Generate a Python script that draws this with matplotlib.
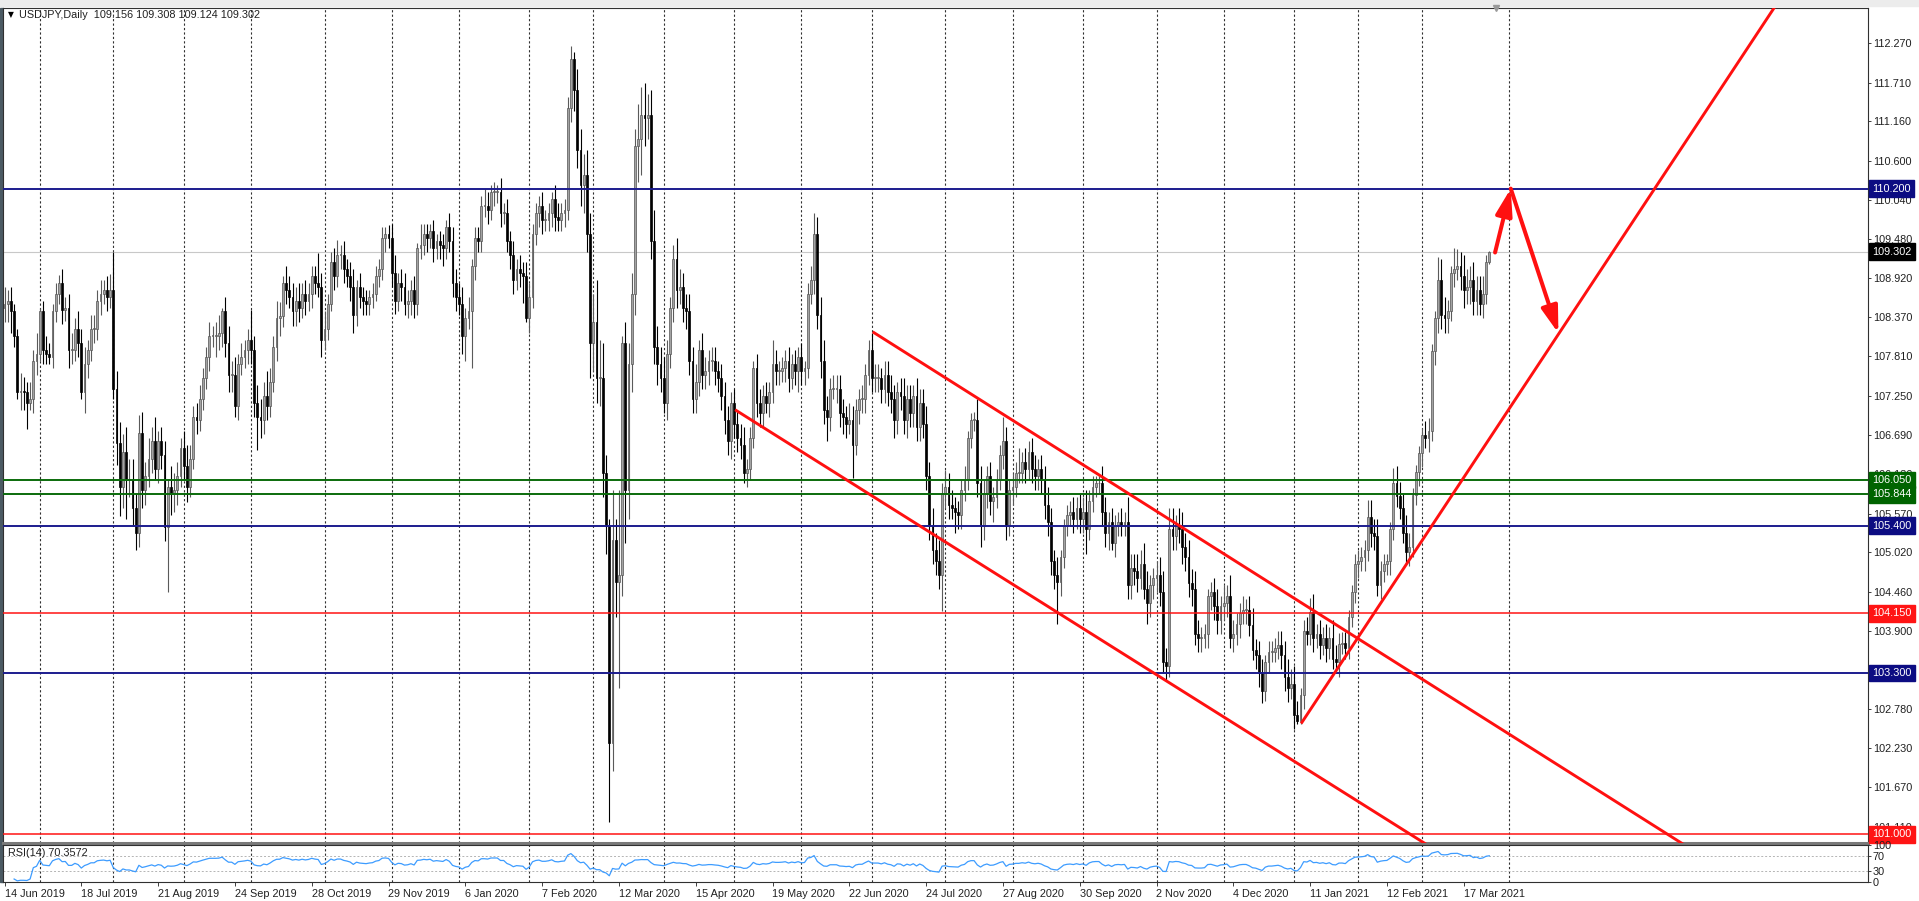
import matplotlib
matplotlib.use("Agg")
import matplotlib.pyplot as plt
import matplotlib.transforms as mtransforms
from matplotlib.patches import Rectangle
import numpy as np
import pandas as pd

plt.rcParams['font.family'] = ['Liberation Sans', 'DejaVu Sans']

# USDJPY daily, bar 0 = 14 Jun 2019 ... bar 464 = last (partial) bar
first_open = 108.50
closes = [
    108.55, 108.60, 108.45, 108.10, 107.30, 107.32, 107.30, 107.15, 107.20, 107.75,
    107.85, 108.45, 107.90, 107.85, 107.80, 108.45, 108.70, 108.85, 108.47, 108.50,
    107.90, 107.90, 108.20, 108.00, 107.30, 107.70, 107.90, 108.20, 108.20, 108.60,
    108.70, 108.75, 108.65, 108.75, 107.35, 106.57, 105.95, 106.45, 106.05, 106.05,
    105.65, 105.30, 106.72, 105.90, 106.10, 106.35, 106.60, 106.20, 106.60, 106.40,
    105.38, 105.95, 105.85, 105.90, 106.10, 106.50, 106.25, 105.95, 106.35, 106.95,
    106.90, 107.20, 107.50, 107.80, 108.10, 108.10, 108.10, 108.15, 108.45, 108.00,
    107.55, 107.55, 107.10, 107.70, 107.80, 107.90, 108.05, 107.90, 107.15, 106.95,
    106.90, 107.25, 107.10, 107.45, 107.95, 108.35, 108.38, 108.85, 108.75, 108.65,
    108.45, 108.60, 108.50, 108.70, 108.60, 108.70, 108.95, 108.85, 108.80, 108.05,
    108.20, 108.55, 109.15, 108.95, 109.25, 109.25, 109.05, 108.95, 108.80, 108.40,
    108.80, 108.65, 108.60, 108.55, 108.65, 108.70, 108.95, 109.05, 109.50, 109.55,
    109.50, 109.00, 108.60, 108.85, 108.80, 108.55, 108.60, 108.75, 108.55, 109.35,
    109.40, 109.55, 109.50, 109.60, 109.35, 109.45, 109.40, 109.35, 109.65, 109.45,
    108.85, 108.65, 108.55, 108.10, 108.35, 108.45, 109.10, 109.50, 109.45, 109.95,
    109.95, 109.90, 110.15, 110.15, 110.15, 109.85, 109.85, 109.45, 109.25, 108.90,
    109.05, 109.00, 108.95, 108.35, 108.65, 109.55, 109.85, 109.95, 109.75, 109.75,
    109.85, 110.05, 109.80, 109.75, 109.85, 109.90, 111.35, 112.05, 111.60, 110.75,
    110.25, 110.40, 109.55, 108.00, 108.30, 107.50, 107.50, 106.15, 105.40, 102.30,
    105.20, 104.60, 104.70, 108.00, 105.90, 107.70, 108.70, 110.80, 110.90, 111.25,
    111.20, 111.25, 109.45, 107.95, 107.70, 107.50, 107.15, 107.85, 108.50, 109.20,
    108.75, 108.80, 108.50, 108.45, 107.75, 107.20, 107.45, 107.90, 107.55, 107.60,
    107.75, 107.75, 107.60, 107.50, 107.25, 106.90, 106.60, 107.15, 106.85, 106.65,
    106.55, 106.15, 106.20, 106.65, 107.65, 107.15, 107.00, 107.25, 107.15, 107.30,
    107.70, 107.60, 107.60, 107.65, 107.75, 107.50, 107.70, 107.60, 107.80, 107.60,
    107.65, 108.70, 108.90, 109.55, 108.40, 107.75, 107.05, 106.95, 107.35, 107.35,
    107.35, 107.00, 106.95, 106.85, 106.90, 106.55, 107.05, 107.20, 107.20, 107.55,
    107.90, 107.50, 107.50, 107.50, 107.35, 107.55, 107.30, 107.20, 106.90, 107.30,
    107.25, 106.90, 107.20, 107.00, 107.25, 106.80, 107.15, 106.85, 106.10, 105.40,
    105.05, 104.90, 104.70, 105.85, 105.95, 105.70, 105.65, 105.60, 105.55, 105.90,
    106.05, 106.65, 106.90, 106.90, 106.00, 105.40, 105.85, 106.10, 105.75, 105.80,
    106.05, 106.40, 106.60, 105.40, 105.90, 105.95, 106.15, 106.15, 106.30, 106.20,
    106.45, 106.20, 106.10, 106.20, 106.05, 105.70, 105.45, 104.90, 104.70, 104.60,
    104.95, 105.40, 105.55, 105.60, 105.50, 105.65, 105.50, 105.60, 105.35, 105.75,
    105.95, 106.00, 106.00, 105.60, 105.30, 105.45, 105.15, 105.40, 105.45, 105.40,
    105.45, 104.55, 104.80, 104.75, 104.65, 104.85, 104.50, 104.30, 104.55, 104.65,
    104.70, 104.45, 103.45, 103.40, 105.35, 105.25, 105.40, 105.35, 105.10, 104.95,
    104.58, 104.50, 103.85, 103.80, 103.80, 103.85, 104.40, 104.45, 104.25, 104.05,
    104.25, 104.30, 104.40, 103.80, 103.85, 104.00, 104.15, 104.20, 104.20, 103.98,
    103.63, 103.55, 103.30, 103.05, 103.45, 103.60, 103.60, 103.65, 103.70, 103.55,
    103.25, 103.08, 103.15, 102.70, 102.62, 102.98, 103.90, 103.85, 104.17, 103.80,
    103.85, 103.70, 103.80, 103.65, 103.80, 103.50, 103.45, 103.72, 103.73, 103.65,
    104.10, 104.45, 104.85, 104.90, 104.95, 105.05, 105.52, 105.30, 105.25, 104.55,
    104.75, 104.85, 104.90, 105.35, 106.00, 105.82, 105.65, 105.30, 105.02, 105.10,
    105.84, 106.17, 106.44, 106.69, 106.65, 106.75, 107.89, 108.35, 108.90, 108.40,
    108.35, 108.46, 109.00, 109.05, 109.10, 108.95, 108.75, 108.80, 108.90, 108.60,
    108.75, 108.55, 108.70, 109.156, 109.302,
]
# distance of high above the body top / low below the body bottom (yen)
wick_up = [
    .25, .15, .20, .10, .10, .25, .20, .15, .25, .15,
    .30, .05, .15, .20, .15, .10, .15, .12, .20, .15,
    .20, .25, .15, .25, .20, .25, .15, .20, .20, .15,
    .20, .15, .20, .24, .55, .25, .30, .25, .35, .30,
    .30, .20, .25, .30, .20, .30, .20, .35, .15, .20,
    .20, .10, .30, .25, .20, .15, .25, .30, .20, .15,
    .20, .20, .15, .15, .20, .15, .20, .25, .05, .20,
    .25, .20, .25, .15, .20, .15, .15, .42, .20, .25,
    .25, .20, .35, .20, .15, .25, .20, .10, .25, .20,
    .20, .20, .25, .15, .20, .15, .15, .15, .43, .20,
    .25, .15, .15, .20, .22, .15, .20, .15, .20, .25,
    .10, .20, .15, .15, .10, .15, .15, .15, .15, .10,
    .13, .20, .25, .15, .20, .20, .15, .15, .20, .07,
    .30, .15, .15, .10, .15, .10, .15, .15, .10, .20,
    .20, .20, .20, .25, .15, .20, .10, .15, .15, .15,
    .25, .20, .10, .14, .10, .20, .15, .20, .15, .20,
    .15, .20, .15, .20, .20, .15, .15, .15, .20, .15,
    .15, .10, .20, .20, .15, .15, .15, .18, .10, .30,
    .30, .30, .35, .30, .40, .60, .55, .50, .25, .10,
    .70, .30, 1.20, .10, .30, .30, .30, .25, .50, .40,
    .46, .30, .35, .45, .30, .25, .30, .20, .15, .20,
    .30, .25, .20, .20, .25, .20, .25, .15, .25, .20,
    .15, .20, .20, .15, .20, .20, .20, .15, .20, .20,
    .20, .25, .15, .15, .10, .20, .20, .15, .20, .15,
    .35, .20, .15, .15, .15, .20, .15, .20, .15, .20,
    .10, .15, .20, .30, .25, .25, .30, .20, .15, .20,
    .20, .20, .20, .15, .25, .20, .15, .15, .20, .15,
    .15, .25, .20, .20, .15, .20, .20, .25, .20, .15,
    .20, .25, .20, .20, .15, .25, .20, .20, .25, .20,
    .25, .25, .30, .15, .24, .20, .20, .15, .15, .15,
    .20, .10, .10, .12, .30, .25, .20, .15, .20, .15,
    .15, .15, .35, .20, .15, .20, .15, .35, .15, .20,
    .15, .20, .20, .15, .20, .20, .25, .20, .15, .25,
    .10, .10, .15, .15, .20, .15, .20, .20, .30, .15,
    .15, .10, .10, .25, .20, .15, .20, .15, .15, .20,
    .15, .35, .20, .20, .25, .20, .30, .25, .15, .15,
    .20, .25, .30, .20, .30, .30, .15, .25, .25, .20,
    .25, .20, .25, .20, .15, .15, .10, .15, .20, .25,
    .15, .25, .15, .30, .20, .15, .15, .20, .15, .20,
    .25, .15, .20, .20, .10, .15, .15, .15, .20, .20,
    .20, .25, .20, .25, .20, .10, .15, .20, .20, .25,
    .15, .20, .15, .20, .15, .25, .20, .15, .15, .15,
    .10, .10, .15, .15, .15, .15, .24, .25, .20, .25,
    .15, .15, .10, .10, .22, .25, .20, .20, .25, .20,
    .10, .10, .10, .10, .20, .18, .10, .10, .33, .30,
    .25, .15, .10, .31, .24, .20, .30, .25, .20, .25,
    .20, .20, .25, .10, .006,
]
wick_dn = [
    .20, .25, .30, .15, .10, .25, .25, .37, .10, .20,
    .20, .10, .20, .15, .10, .15, .15, .15, .20, .15,
    .25, .20, .15, .20, .10, .30, .20, .15, .20, .15,
    .20, .15, .20, .15, .15, .30, .42, .30, .55, .25,
    .25, .25, .20, .25, .20, .15, .20, .15, .20, .20,
    .20, .93, .30, .25, .20, .15, .20, .21, .15, .15,
    .20, .15, .15, .15, .20, .15, .30, .20, .20, .20,
    .25, .25, .15, .20, .15, .15, .20, .20, .20, .47,
    .25, .20, .20, .15, .15, .20, .25, .15, .20, .15,
    .20, .20, .20, .15, .20, .15, .20, .15, .15, .25,
    .15, .15, .10, .20, .15, .20, .20, .15, .20, .25,
    .15, .15, .20, .15, .15, .15, .10, .15, .15, .20,
    .15, .20, .18, .15, .20, .15, .20, .20, .20, .15,
    .15, .15, .20, .15, .20, .15, .20, .25, .15, .15,
    .20, .20, .15, .25, .35, .15, .80, .20, .15, .15,
    .15, .20, .15, .20, .15, .20, .15, .15, .20, .20,
    .15, .20, .38, .05, .20, .15, .15, .20, .20, .15,
    .15, .20, .20, .15, .15, .20, .15, .20, .30, .25,
    .30, .40, .25, .50, .40, .35, .40, .35, .40, 1.12,
    .40, .50, 1.52, .30, .75, .40, .40, .30, .50, .50,
    .40, .30, .25, .25, .30, .20, .15, .25, .20, .20,
    .25, .20, .20, .25, .20, .20, .20, .20, .20, .20,
    .20, .15, .20, .20, .20, .20, .20, .25, .20, .20,
    .20, .15, .20, .15, .15, .20, .20, .20, .15, .20,
    .15, .20, .20, .15, .20, .20, .15, .20, .30, .20,
    .20, .15, .15, .20, .20, .25, .20, .35, .20, .15,
    .20, .20, .25, .20, .15, .47, .15, .20, .20, .20,
    .15, .20, .20, .20, .20, .20, .20, .20, .25, .20,
    .20, .20, .25, .20, .20, .20, .20, .20, .20, .20,
    .20, .20, .20, .51, .20, .20, .15, .30, .20, .20,
    .15, .15, .15, .15, .20, .30, .20, .20, .20, .30,
    .15, .15, .20, .20, .15, .20, .15, .15, .15, .20,
    .15, .20, .20, .20, .20, .20, .20, .20, .20, .60,
    .20, .15, .15, .15, .20, .15, .20, .20, .35, .15,
    .15, .15, .15, .20, .20, .25, .10, .20, .15, .15,
    .15, .20, .20, .20, .20, .15, .15, .30, .20, .20,
    .20, .20, .15, .22, .15, .20, .20, .20, .25, .20,
    .20, .25, .15, .20, .20, .15, .20, .20, .20, .20,
    .20, .20, .20, .15, .20, .15, .20, .15, .20, .15,
    .15, .20, .20, .18, .15, .15, .15, .15, .15, .20,
    .20, .20, .15, .20, .04, .04, .20, .15, .15, .20,
    .15, .20, .15, .20, .15, .15, .11, .20, .15, .15,
    .15, .15, .15, .20, .15, .20, .15, .20, .20, .15,
    .20, .15, .15, .20, .15, .15, .15, .15, .15, .20,
    .15, .15, .20, .20, .15, .20, .15, .20, .20, .20,
    .20, .20, .15, .20, .15, .20, .25, .20, .25, .20,
    .20, .15, .20, .15, .032,
]

price_ticks = [112.270, 111.710, 111.160, 110.600, 110.040, 109.480, 108.920,
               108.370, 107.810, 107.250, 106.690, 106.130, 105.570, 105.020,
               104.460, 103.900, 103.340, 102.780, 102.230, 101.670, 101.110]
levels = [110.200, 106.050, 105.844, 105.400, 104.150, 103.300, 101.000]
level_kind = ['blue', 'green', 'green', 'blue', 'red', 'blue', 'red']
last_price = 109.302

date_labels = ['14 Jun 2019', '18 Jul 2019', '21 Aug 2019', '24 Sep 2019',
               '28 Oct 2019', '29 Nov 2019', '6 Jan 2020', '7 Feb 2020',
               '12 Mar 2020', '15 Apr 2020', '19 May 2020', '22 Jun 2020',
               '24 Jul 2020', '27 Aug 2020', '30 Sep 2020', '2 Nov 2020',
               '4 Dec 2020', '11 Jan 2021', '12 Feb 2021', '17 Mar 2021']
label_step = 24
month_starts = [11, 34, 56, 77, 100, 121, 142, 164, 184, 206, 228, 249, 271,
                294, 315, 337, 360, 381, 403, 423, 443, 470]

# drawing objects, anchored at (bar index, price)
channel_upper = [(271.3, 108.16), (442.4, 103.23)]
channel_lower = [(228.3, 107.05), (392.3, 102.35)]
support_line = [(405.2, 102.58), (486.1, 108.16)]
arrow_path = [(465.8, 109.29), (470.7, 110.20), (485.6, 108.14)]

header = 'USDJPY,Daily  109.156 109.308 109.124 109.302'
rsi_label = 'RSI(14) 70.3572'

assert len(closes) == len(wick_up) == len(wick_dn)

# ---------------------------------------------------------------
W, H = 1919, 901
FS = 7.8


def box(l, t, r, b):
    return [l / W, 1 - b / H, (r - l) / W, (b - t) / H]


fig = plt.figure(figsize=(W / 100, H / 100), dpi=100, facecolor='white')
ax = fig.add_axes(box(3, 8, 1868, 843))
ax_rsi = fig.add_axes(box(3, 845, 1868, 882), sharex=ax)

# bar i sits at pixel 4.5 + 3.2*i, price scale 70.2 px per yen
ax.set_xlim((3 - 4.5) / 3.2, (1868 - 4.5) / 3.2)
ax.set_ylim(112.27 - (843 - 43.3) / 70.2, 112.27 + (43.3 - 8) / 70.2)

c = np.array(closes)
o = np.r_[first_open, c[:-1]]
hi = np.maximum(o, c) + np.array(wick_up)
lo = np.minimum(o, c) - np.array(wick_dn)
idx = np.arange(len(c))
up = c >= o

for a in (ax, ax_rsi):
    for m in month_starts:
        a.axvline(m, color='#303030', lw=0.8, ls=(0, (2, 2)), zorder=1)

ax.vlines(idx[up], lo[up], hi[up], color='#5a5a5a', lw=0.8, zorder=2)
ax.vlines(idx[~up], lo[~up], hi[~up], color='black', lw=0.8, zorder=2)
body_bot = np.minimum(o, c)
body_h = np.maximum(np.abs(c - o), 0.012)
ax.bar(idx[up], body_h[up], bottom=body_bot[up], width=0.62,
       color='#a3a3a3', edgecolor='#555555', linewidth=0.5, zorder=3)
ax.bar(idx[~up], body_h[~up], bottom=body_bot[~up], width=0.62,
       color='black', edgecolor='black', linewidth=0.5, zorder=3)

line_color = {'blue': '#1c1c8e', 'green': '#0b6b0b', 'red': '#ff1414'}
box_color = {'blue': '#0c0c82', 'green': '#006400', 'red': '#ff1414'}
line_w = {'blue': 1.4, 'green': 1.4, 'red': 1.1}
ax.axhline(last_price, color='#c8c8c8', lw=0.8, zorder=1.5)
for lv, k in zip(levels, level_kind):
    ax.axhline(lv, color=line_color[k], lw=line_w[k], zorder=4)

# trend lines (rays to the right)
for pts in (channel_upper, channel_lower, support_line):
    (i0, p0), (i1, p1) = pts
    slope = (p1 - p0) / (i1 - i0)
    i_end = 700
    ax.plot([i0, i_end], [p0, p0 + slope * (i_end - i0)], color='#ff1010',
            lw=2.1, zorder=5, solid_capstyle='butt')

for (i0, p0), (i1, p1) in zip(arrow_path[:-1], arrow_path[1:]):
    ax.annotate('', xy=(i1, p1), xytext=(i0, p0),
                arrowprops=dict(arrowstyle='-|>,head_length=0.8,head_width=0.25',
                                color='#ff1010', lw=2.9, mutation_scale=20,
                                shrinkA=0, shrinkB=0), zorder=6)

# chart-shift marker at the top
ax.plot([466], [ax.get_ylim()[1]], marker='v', ms=4.5, color='#9a9a9a',
        clip_on=False, zorder=6)

# right price scale
ax.yaxis.tick_right()
ax.set_yticks(price_ticks)
ax.set_yticklabels([f'{v:.3f}' for v in price_ticks])
ax.tick_params(axis='y', direction='out', length=2.5, pad=1.5, labelsize=FS,
               colors='#202020', width=0.6)
ax.tick_params(axis='x', length=0, labelbottom=False)

trans = mtransforms.blended_transform_factory(ax.transAxes, ax.transData)
labels = [(last_price, '#000000')] + [(lv, box_color[k]) for lv, k in zip(levels, level_kind)]
for lv, col in labels:
    ax.annotate(f'{lv:.3f}', xy=(1, lv), xycoords=trans, xytext=(3.2, 0),
                textcoords='offset points', ha='left', va='center', color='white',
                fontsize=FS, annotation_clip=False, zorder=7,
                bbox=dict(boxstyle='square,pad=0.3', fc=col, ec=col))

for s in ax.spines.values():
    s.set_color('#303030')
    s.set_linewidth(0.8)
ax.spines['bottom'].set_color('#7a7a7a')
ax.spines['bottom'].set_linewidth(2.2)

# RSI panel
cs = pd.Series(closes)
d = cs.diff()
gain = d.clip(lower=0).ewm(alpha=1 / 14, adjust=True, min_periods=3).mean()
loss = (-d.clip(upper=0)).ewm(alpha=1 / 14, adjust=True, min_periods=3).mean()
rsi = 100 - 100 / (1 + gain / loss)
ax_rsi.plot(idx, rsi.values, color='#3d9cff', lw=0.9, zorder=3)
for lvl in (70, 30):
    ax_rsi.axhline(lvl, color='#b4b4b4', lw=0.7, ls=(0, (2, 2)), zorder=1)
ax_rsi.set_ylim(0, 100)
ax_rsi.yaxis.tick_right()
ax_rsi.set_yticks([0, 30, 70, 100])
ax_rsi.set_yticklabels(['0', '30', '70', '100'])
ax_rsi.tick_params(axis='y', direction='out', length=2, pad=1.5, labelsize=FS,
                   colors='#202020', width=0.6)
ax_rsi.set_xticks([k * label_step for k in range(len(date_labels))])
ax_rsi.set_xticklabels(date_labels, ha='left')
ax_rsi.tick_params(axis='x', direction='out', length=3, pad=2, labelsize=FS,
                   colors='#202020', width=0.6)
for s in ax_rsi.spines.values():
    s.set_color('#303030')
    s.set_linewidth(0.8)
ax_rsi.text(8 / W, 1 - 853 / H, rsi_label, transform=fig.transFigure,
            fontsize=FS, va='center', ha='left', color='#202020')

# window decorations and header
fig.add_artist(Rectangle((0, 1 - 6 / H), 1, 6 / H, transform=fig.transFigure,
                         color='#ececec', zorder=0))
fig.add_artist(Rectangle((0, 1 - 882 / H), 2.5 / W, 874 / H, transform=fig.transFigure,
                         color='#4b5a63', zorder=0))
fig.text(8 / W, 1 - 15 / H, '\u25bc', fontsize=5.5, va='center', ha='left',
         color='black', family=['DejaVu Sans'])
fig.text(19 / W, 1 - 15 / H, header, fontsize=FS, va='center', ha='left',
         color='#202020')

fig.savefig('out.png', dpi=100, facecolor='white')
